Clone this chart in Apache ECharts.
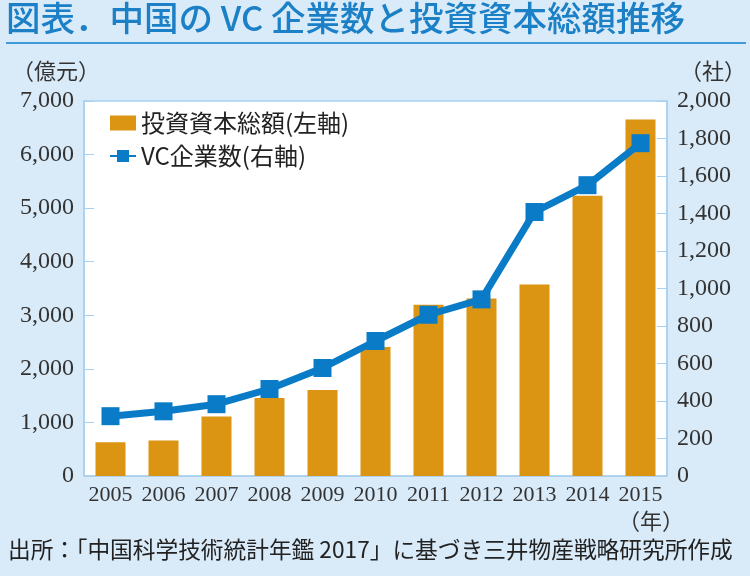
<!DOCTYPE html>
<html><head><meta charset="utf-8">
<script src="https://cdn.jsdelivr.net/npm/echarts@6/dist/echarts.min.js"></script>
<style>html,body{margin:0;padding:0;background:#d9eaf8;}#c{width:750px;height:576px;}</style>
</head><body><div id="c"></div>
<script>
const years = ['2005','2006','2007','2008','2009','2010','2011','2012','2013','2014','2015'];
const capital = [632, 664, 1113, 1456, 1605, 2407, 3198, 3313, 3574, 5232, 6653];
const vcCount = [319, 345, 383, 464, 576, 720, 860, 942, 1408, 1551, 1775];
const leftTicks = [0, 7000, 1000];
const rightTicks = [0, 2000, 200];

const chart = echarts.init(document.getElementById('c'));
const serif = '"Liberation Serif", "DejaVu Serif", serif';
const cjk = '"Noto Sans CJK JP", sans-serif';
const axisBlue = '#a9d1ef';
const fmt = v => v.toLocaleString('en-US');
chart.setOption({
  backgroundColor: '#d9eaf8',
  animation: false,
  graphic: [
    {type:'text', left: 6, top: 1, style:{text:'図表．中国の VC 企業数と投資資本総額推移', font:'500 34.5px ' + cjk, fill:'#1b80c6'}},
    {type:'rect', shape:{x:6, y:42, width:740, height:2}, style:{fill:'#3e9ad8'}},
    {type:'text', left: 12, top: 60, style:{text:'（億元）', font:'22px ' + cjk, fill:'#333'}},
    {type:'text', left: 680, top: 60, style:{text:'（社）', font:'22px ' + cjk, fill:'#333'}},
    {type:'text', left: 618, top: 510, style:{text:'（年）', font:'22px ' + cjk, fill:'#333'}},
    {type:'text', left: 8, top: 538, style:{text:'出所：「中国科学技術統計年鑑 2017」に基づき三井物産戦略研究所作成', font:'22.7px ' + cjk, fill:'#222'}}
  ],
  grid: {left: 84, right: 83, top: 101, bottom: 100, show: true, backgroundColor: '#fff', borderColor: axisBlue, borderWidth: 1.5},
  legend: {
    left: 104, top: 106, orient: 'vertical', itemGap: 9, itemWidth: 26, itemHeight: 15,
    textStyle: {fontFamily: cjk, fontSize: 24, color: '#222'},
    data: [{name:'投資資本総額(左軸)', icon:'rect'}, {name:'VC企業数(右軸)'}]
  },
  xAxis: {
    type: 'category', data: years,
    axisLine: {lineStyle: {color: axisBlue, width: 1.5}},
    axisTick: {inside: true, length: 10, lineStyle: {color: axisBlue}},
    axisLabel: {interval: 0, hideOverlap: false, fontFamily: serif, fontSize: 22, color: '#333', margin: 8}
  },
  yAxis: [
    {type: 'value', min: leftTicks[0], max: leftTicks[1], interval: leftTicks[2],
     axisLine: {show: true, lineStyle: {color: axisBlue, width: 1.5}},
     axisTick: {show: true, inside: true, length: 10, lineStyle: {color: axisBlue}},
     splitLine: {show: false},
     axisLabel: {fontFamily: serif, fontSize: 24, color: '#333', margin: 10, formatter: fmt}},
    {type: 'value', min: rightTicks[0], max: rightTicks[1], interval: rightTicks[2],
     axisLine: {show: true, lineStyle: {color: axisBlue, width: 1.5}},
     axisTick: {show: true, inside: true, length: 10, lineStyle: {color: axisBlue}},
     splitLine: {show: false},
     axisLabel: {fontFamily: serif, fontSize: 24, color: '#333', margin: 10, formatter: fmt}}
  ],
  series: [
    {name: '投資資本総額(左軸)', type: 'bar', data: capital, barWidth: 30, yAxisIndex: 0,
     itemStyle: {color: '#dc9413'}},
    {name: 'VC企業数(右軸)', type: 'line', data: vcCount, yAxisIndex: 1,
     symbol: 'rect', symbolSize: 18, lineStyle: {color: '#0a7bc6', width: 7},
     itemStyle: {color: '#0a7bc6'}}
  ]
});
</script></body></html>
